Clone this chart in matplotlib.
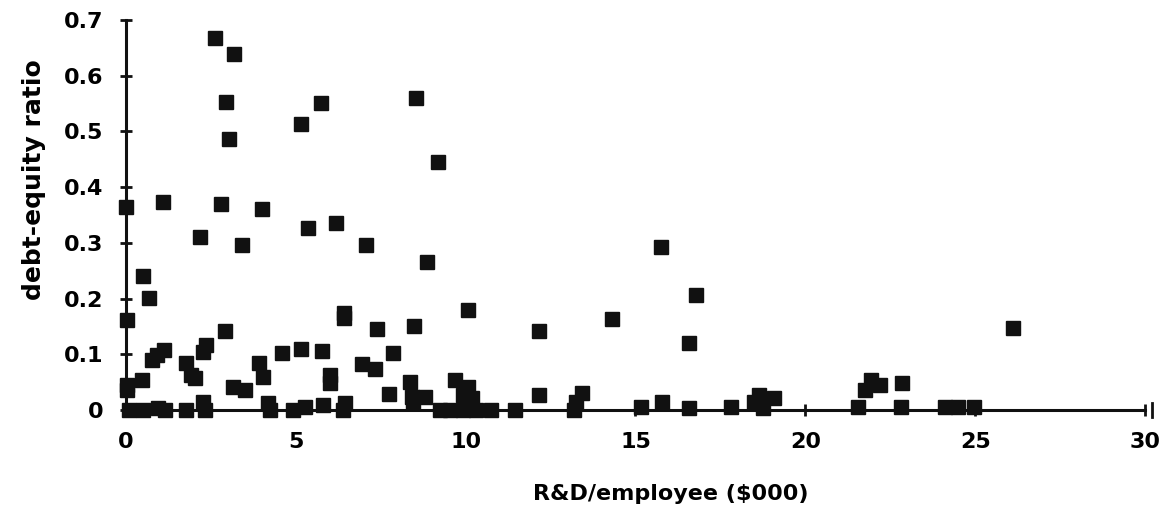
import numpy as np
import matplotlib.pyplot as plt

# R&D per employee ($000) vs debt-equity ratio
rd_top = [2.62, 3.18, 2.94, 3.03, 5.15, 5.74, 8.53, 9.18]
de_top = [0.668, 0.639, 0.553, 0.487, 0.513, 0.551, 0.560, 0.446]

rd_mid = [0.0, 1.09, 2.18, 2.79, 3.43, 4.0, 5.36, 6.18, 7.06, 0.49, 0.69,
          15.75, 8.87, 16.78]
de_mid = [0.365, 0.373, 0.310, 0.370, 0.297, 0.361, 0.326, 0.335, 0.296,
          0.241, 0.201, 0.292, 0.266, 0.206]

rd_low = [0.04, 10.07, 8.48, 12.17, 14.3, 16.58, 6.42, 6.42, 7.39, 2.93,
          2.37, 2.26, 1.12, 0.9, 0.76, 5.76, 7.86, 4.6, 5.14, 26.1]
de_low = [0.162, 0.180, 0.150, 0.141, 0.163, 0.121, 0.175, 0.165, 0.145,
          0.141, 0.117, 0.105, 0.108, 0.099, 0.090, 0.106, 0.102, 0.103,
          0.109, 0.148]

rd_small = [1.78, 2.03, 1.93, 0.46, 0.04, 0.04, 3.91, 4.04, 3.16, 3.5, 6.02,
            6.02, 6.96, 7.32, 8.35, 7.74, 8.42, 8.79, 9.68, 10.07, 9.92,
            10.2, 12.17, 13.42, 13.25, 15.17, 15.77, 16.57, 17.8, 18.65,
            18.5, 19.09, 18.74, 21.54, 21.76, 21.93, 22.2, 22.86, 22.81,
            24.1, 24.5, 24.97, 2.27, 4.19, 5.26, 5.8, 6.44, 8.45]
de_small = [0.084, 0.057, 0.063, 0.054, 0.045, 0.036, 0.084, 0.060, 0.042,
            0.036, 0.063, 0.048, 0.083, 0.074, 0.051, 0.029, 0.024, 0.023,
            0.054, 0.042, 0.027, 0.021, 0.027, 0.030, 0.015, 0.006, 0.015,
            0.003, 0.005, 0.027, 0.015, 0.021, 0.003, 0.005, 0.036, 0.054,
            0.045, 0.048, 0.006, 0.006, 0.006, 0.006, 0.015, 0.012, 0.006,
            0.009, 0.012, 0.012]

rd_zero = [0.1, 0.5, 0.95, 1.15, 1.78, 2.32, 4.24, 4.92, 6.39, 9.24, 9.53,
           9.92, 10.31, 10.75, 11.44, 13.2]
de_zero = [0.0, 0.0, 0.003, 0.0, 0.0, 0.0, 0.0, 0.0, 0.0, 0.0, 0.0, 0.0,
           0.0, 0.0, 0.0, 0.0]

x = rd_top + rd_mid + rd_low + rd_small + rd_zero
y = de_top + de_mid + de_low + de_small + de_zero

xticks = [0, 5, 10, 15, 20, 25, 30]
yticks = [0, 0.1, 0.2, 0.3, 0.4, 0.5, 0.6, 0.7]
ytick_labels = ['0', '0.1', '0.2', '0.3', '0.4', '0.5', '0.6', '0.7']

plt.rcParams['font.family'] = ['DejaVu Sans']
plt.rcParams['font.weight'] = 'bold'

fig = plt.figure(figsize=(11.66, 5.14), dpi=100)
ax = fig.add_axes([0.108, 0.2023, 0.874, 0.7587])

ax.plot(x, y, 's', color='#111111', markersize=9.5, clip_on=False, zorder=3)

ax.set_xlim(0, 30)
ax.set_ylim(0, 0.7)
ax.set_xticks(xticks)
ax.set_xticklabels([str(t) for t in xticks])
ax.set_yticks(yticks)
ax.set_yticklabels(ytick_labels)

for s in ['top', 'right']:
    ax.spines[s].set_visible(False)
for s in ['left', 'bottom']:
    ax.spines[s].set_linewidth(2.2)
    ax.spines[s].set_color('#111111')

ax.tick_params(axis='both', direction='inout', length=8, width=2,
               color='#111111')
ax.tick_params(axis='x', labelsize=16, pad=12)
ax.tick_params(axis='y', labelsize=16, pad=12)
for lab in ax.get_xticklabels() + ax.get_yticklabels():
    lab.set_fontweight('bold')

# end mark on the x axis
ax.plot([30.2, 30.2], [-0.012, 0.012], color='#111111', lw=2,
        clip_on=False)

ax.set_xlabel('R&D/employee ($000)', fontsize=16, fontweight='bold')
ax.xaxis.set_label_coords(0.535, -0.19)
ax.set_ylabel('debt-equity ratio', fontsize=18, fontweight='bold')
ax.yaxis.set_label_coords(-0.078, 0.59)

fig.savefig('out.png', dpi=100)
